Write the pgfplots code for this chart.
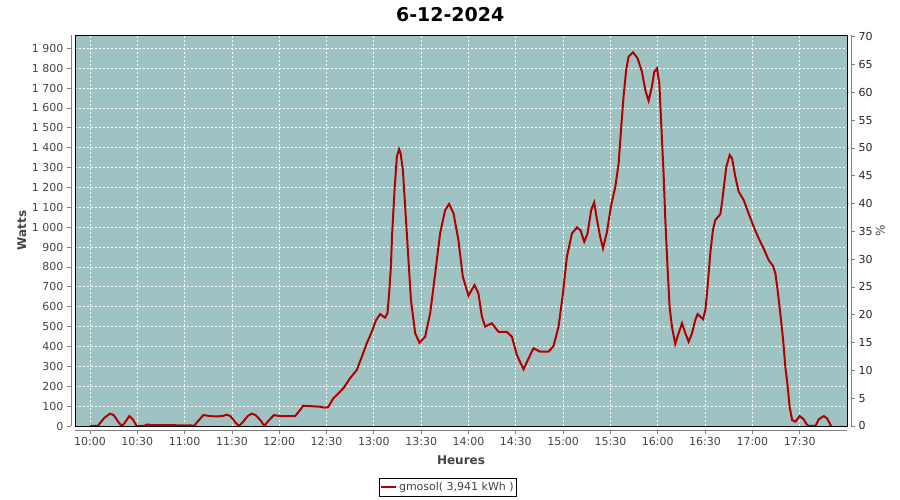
\documentclass[border=0pt]{standalone}
\usepackage{fontspec}
\setmainfont{DejaVu Sans}
\usepackage{pgfplots}
\pgfplotsset{compat=1.18}
\definecolor{bgc}{RGB}{159,195,194}
\definecolor{linec}{RGB}{178,0,0}
\definecolor{axg}{RGB}{128,128,128}
\definecolor{txt}{RGB}{68,68,68}
\pgfplotsset{common/.style={
  at={(75pt,74pt)}, anchor=south west, scale only axis, width=772pt, height=391pt,
  xmin=590.5, xmax=1080,
  /pgf/number format/assume math mode=true,
  tick label style={font=\fontsize{11}{13}\selectfont, text=txt},
}}
\begin{document}
\begin{tikzpicture}
\useasboundingbox (0pt,0pt) rectangle (900pt,500pt);
\begin{axis}[common, ymin=0, ymax=1967,
  axis background/.style={fill=bgc},
  xtick={600,630,...,1050}, ytick={0,100,...,1900},
  xticklabels={}, yticklabels={},
  major tick length=0pt,
  grid=major, grid style={white, line width=0.8pt, dash pattern=on 2pt off 2pt},
  axis line style={black, line width=0.9pt},
  legend style={at={(axis description cs:0.483,-0.157)}, anchor=center, draw=black, line width=0.8pt,
    font=\fontsize{11}{13}\selectfont, text=txt, inner xsep=1pt, inner ysep=2pt},
  legend image code/.code={\draw[linec, line width=2pt] (0pt,0pt) -- (15pt,0pt);},
]
\addplot[linec, line width=2pt] coordinates {
(600,0) (604.9,0) (609,40) (612.7,62) (615,55) (618,20) (620.1,0) (622,15) (624.9,50) (627,35) (629.6,0)
(634,0) (636.6,8) (638,5) (664.5,3) (666,0) (668,20) (671.9,55) (676,50) (680,48) (684,50) (686.7,57)
(689,50) (692,20) (694.5,0) (697,20) (700,50) (702.6,62) (705,55) (708,30) (710.6,0) (713,25) (716.7,55)
(720,50) (725,50) (730.1,50) (733.2,80) (735.1,102) (745.9,97) (749.1,92) (751,95) (754.3,139) (760.7,190)
(764.9,240) (769.2,282) (772.4,349) (775.5,416) (778.7,474) (781.4,533) (784,563) (787.1,545) (788.6,567)
(789.7,667) (790.8,801) (791.6,969) (793.1,1187) (794.6,1355) (796,1392) (797,1370) (798.4,1288)
(800.9,969) (803.5,634) (806.2,466) (808.9,419) (812.5,449) (815.7,567) (818.9,768) (822,969) (825.2,1086)
(827.7,1117) (830.5,1070) (833.6,936) (836.4,751) (840,656) (843.8,709) (846.3,667) (848.5,550) (850.6,500)
(854.8,517) (859,474) (864.3,474) (867.5,449) (870.7,357) (874.9,285) (878.1,340) (881.2,391) (885.5,374)
(890.7,374) (893.9,402) (897.1,500) (899.9,667) (902.4,852) (905.6,969) (908.8,999) (911,985) (913.4,927)
(915.5,969) (917.8,1086) (919.7,1125) (921.5,1036) (923.5,952) (925.3,894) (927.8,977) (930.3,1103)
(933.1,1204) (935.2,1321) (936.7,1489) (938.3,1656) (940,1791) (941.5,1858) (944.3,1880) (947.2,1850)
(950,1782) (952.1,1690) (954.2,1636) (956.3,1707) (957.8,1782) (959.5,1799) (961,1724) (962.2,1523)
(963.7,1271) (964.8,1036) (966.2,801) (967.5,600) (969,500) (971.1,412) (973.2,466) (975.4,517) (977.5,466)
(979.6,424) (981.7,466) (983.8,533) (985.3,563) (987,550) (988.7,537) (990.2,583) (991.6,701) (993.3,869)
(995,986) (996.5,1036) (999.7,1066) (1000.7,1120) (1002.2,1221) (1003.5,1304) (1005.6,1363) (1007.1,1347)
(1009.2,1254) (1011.3,1179) (1014.5,1137) (1017.6,1070) (1020.8,1003) (1024,944) (1027.1,894) (1030.3,835)
(1033.1,805) (1034.6,768) (1036,684) (1037.7,567) (1039.5,433) (1040.9,298) (1042.4,198) (1043.6,97)
(1045.2,30) (1047.3,22) (1050,50) (1052.5,34) (1054.7,5) (1056,0) (1060,0) (1062.1,34) (1065.3,50)
(1067.4,38) (1069.9,0)
};
\addlegendentry{gmosol( 3,941 kWh )}
\end{axis}
\begin{axis}[common, ymin=0, ymax=1967,
  axis x line=bottom, axis y line=left,
  axis x line shift=4pt, axis y line shift=4pt,
  axis line style={axg, line width=0.8pt, -},
  xtick={600,630,...,1050},
  xticklabels={10:00,10:30,11:00,11:30,12:00,12:30,13:00,13:30,14:00,14:30,15:00,15:30,16:00,16:30,17:00,17:30},
  ytick={0,100,...,1900},
  yticklabel style={/pgf/number format/1000 sep={\ }},
  tick align=outside, major tick length=4pt, tick style={axg, line width=0.8pt},
  title={6-12-2024},
  title style={at={(axis description cs:0.486,1)}, anchor=base, yshift=7.5pt, font=\bfseries\fontsize{19}{22}\selectfont},
  xlabel={Heures},
  xlabel style={at={(axis description cs:0.5,0)}, anchor=base, yshift=-39pt, font=\bfseries\fontsize{12}{14}\selectfont, text=txt},
  ylabel={Watts},
  ylabel style={at={(axis description cs:-0.069,0.5)}, anchor=center, font=\bfseries\fontsize{12}{14}\selectfont, text=txt},
]
\end{axis}
\begin{axis}[common, ymin=0, ymax=70.3,
  axis x line=none, axis y line=right,
  axis y line shift=4pt,
  axis line style={axg, line width=0.8pt, -},
  ytick={0,5,...,70},
  yticklabel style={text=black!85},
  tick align=outside, major tick length=4pt, tick style={axg, line width=0.8pt},
  ylabel={\%},
  ylabel style={at={(axis description cs:1.043,0.5)}, anchor=center, rotate=0, font=\fontsize{12}{14}\selectfont, text=txt},
]
\end{axis}
\end{tikzpicture}
\end{document}
